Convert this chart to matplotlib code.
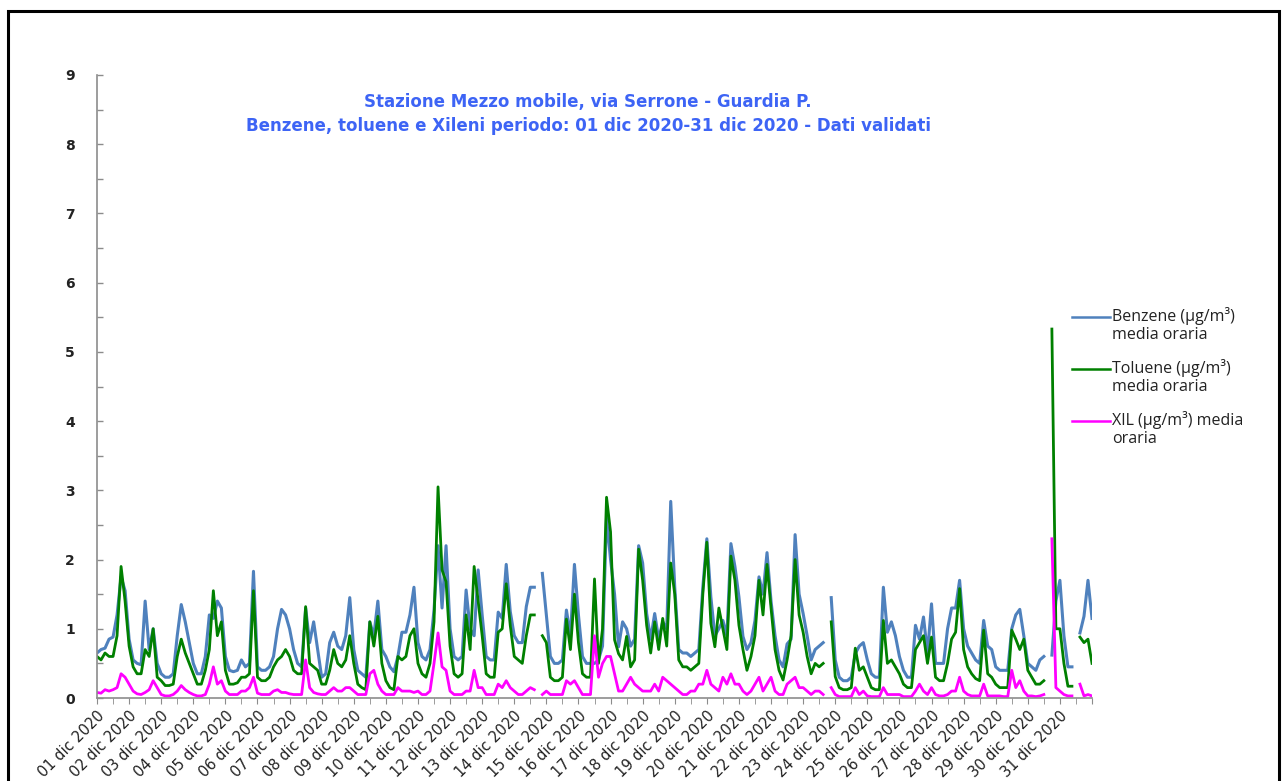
import numpy as np
import matplotlib
matplotlib.use("Agg")
import matplotlib.pyplot as plt
from matplotlib.lines import Line2D
from matplotlib.patches import Rectangle

nan = np.nan

# valori ogni 3 ore (00, 03, ..., 21) per ciascun giorno di dicembre 2020,
# più l'ultimo valore a fine periodo
benzene = [
    .65, .70, .72, .85, .88, 1.20, 1.75, 1.55,   # 01
    .85, .55, .50, .48, 1.40, .70, 1.00, .50,    # 02
    .35, .30, .30, .35, .90, 1.35, 1.10, .80,    # 03
    .50, .35, .35, .60, 1.20, 1.15, 1.40, 1.30,  # 04
    .60, .40, .38, .40, .55, .45, .50, 1.83,     # 05
    .45, .40, .40, .45, .60, 1.00, 1.28, 1.20,   # 06
    1.00, .70, .50, .45, 1.30, .80, 1.10, .70,   # 07
    .30, .35, .80, .95, .75, .70, .90, 1.45,     # 08
    .70, .40, .35, .30, 1.10, .90, 1.40, .70,    # 09
    .60, .45, .38, .60, .95, .95, 1.20, 1.60,    # 10
    .80, .60, .55, .70, 1.27, 2.20, 1.30, 2.20,  # 11
    1.00, .60, .55, .60, 1.56, 1.00, .90, 1.85,  # 12
    1.20, .60, .55, .55, 1.24, 1.15, 1.93, 1.25, # 13
    .90, .80, .80, 1.32, 1.60, 1.60, nan, 1.80,  # 14
    1.20, .60, .50, .50, .55, 1.27, .90, 1.93,   # 15
    1.20, .60, .50, .50, .50, .55, .75, 2.60,    # 16
    2.00, 1.50, .74, 1.10, 1.00, .75, .85, 2.20, # 17
    1.95, 1.22, .85, 1.22, .85, 1.10, 1.00, 2.84,# 18
    1.60, .70, .65, .65, .60, .65, .70, 1.60,    # 19
    2.30, 1.46, .90, 1.00, 1.12, .90, 2.23, 1.90,# 20
    1.46, .89, .70, .80, 1.12, 1.75, 1.50, 2.10, # 21
    1.40, .90, .55, .45, .78, .85, 2.36, 1.50,   # 22
    1.22, .90, .55, .70, .75, .80, nan, 1.45,    # 23
    .55, .30, .25, .25, .30, .64, .75, .80,      # 24
    .55, .35, .30, .30, 1.60, .95, 1.10, .90,    # 25
    .60, .40, .30, .30, 1.05, .85, 1.17, .65,    # 26
    1.36, .50, .50, .50, 1.00, 1.30, 1.30, 1.70, # 27
    1.00, .75, .65, .55, .50, 1.12, .75, .70,    # 28
    .45, .40, .40, .40, 1.00, 1.20, 1.28, .90,   # 29
    .50, .45, .40, .55, .60, nan, .62, 1.40,     # 30
    1.70, .90, .45, .45, nan, .94, 1.18, 1.70,   # 31
    1.15,
]

toluene = [
    .60, .55, .65, .60, .60, .90, 1.90, 1.40,
    .75, .45, .35, .35, .70, .60, 1.00, .30,
    .25, .18, .18, .20, .60, .85, .65, .50,
    .35, .20, .20, .40, .70, 1.55, .90, 1.10,
    .40, .20, .20, .22, .30, .30, .35, 1.55,
    .30, .25, .25, .30, .45, .55, .60, .70,
    .60, .40, .35, .35, 1.32, .50, .45, .40,
    .20, .20, .40, .70, .50, .45, .55, .90,
    .50, .20, .15, .12, 1.10, .75, 1.18, .50,
    .25, .15, .12, .60, .55, .60, .90, 1.00,
    .50, .35, .30, .50, 1.10, 3.05, 1.85, 1.68,
    .75, .35, .30, .35, 1.20, .70, 1.90, 1.40,
    .90, .35, .30, .30, .95, 1.00, 1.65, 1.05,
    .60, .55, .50, .90, 1.20, 1.20, nan, .90,
    .80, .30, .25, .25, .30, 1.14, .70, 1.50,
    .80, .35, .30, .30, 1.72, .50, 1.00, 2.90,
    2.40, .84, .64, .55, .89, .45, .55, 2.15,
    1.70, 1.05, .65, 1.10, .70, 1.15, .75, 1.95,
    1.50, .55, .45, .45, .40, .45, .50, 1.50,
    2.25, 1.08, .74, 1.30, 1.00, .70, 2.05, 1.70,
    1.05, .70, .40, .60, .90, 1.70, 1.20, 1.93,
    1.30, .70, .40, .26, .55, .90, 2.00, 1.20,
    .95, .60, .35, .50, .45, .50, nan, 1.10,
    .31, .15, .12, .12, .15, .72, .40, .45,
    .30, .15, .12, .12, 1.12, .50, .55, .45,
    .35, .20, .15, .15, .70, .80, .90, .50,
    .88, .30, .25, .25, .50, .85, .95, 1.58,
    .70, .45, .35, .28, .25, .98, .35, .30,
    .20, .15, .15, .15, .98, .85, .70, .85,
    .40, .30, .20, .20, .25, nan, 5.33, 1.00,
    1.00, .50, .17, .17, nan, .88, .80, .85,
    .50,
]

xileni = [
    .08, .07, .12, .10, .12, .15, .35, .30,
    .20, .10, .06, .05, .08, .12, .25, .15,
    .05, .03, .03, .05, .10, .18, .12, .08,
    .05, .03, .03, .05, .20, .45, .20, .25,
    .10, .05, .05, .05, .10, .10, .15, .30,
    .07, .05, .05, .05, .10, .12, .08, .08,
    .06, .05, .05, .05, .55, .15, .08, .06,
    .05, .05, .10, .15, .10, .10, .15, .15,
    .10, .05, .05, .05, .35, .40, .20, .10,
    .05, .05, .05, .15, .10, .10, .10, .08,
    .10, .05, .05, .10, .50, .94, .45, .40,
    .10, .05, .05, .05, .10, .10, .40, .15,
    .15, .05, .05, .05, .20, .15, .25, .15,
    .10, .05, .05, .10, .15, .12, nan, .05,
    .10, .05, .05, .05, .05, .25, .20, .25,
    .15, .05, .05, .05, .90, .30, .50, .60,
    .60, .35, .10, .10, .20, .30, .20, .15,
    .10, .10, .10, .20, .10, .30, .25, .20,
    .15, .10, .05, .05, .10, .10, .20, .20,
    .40, .20, .15, .10, .30, .20, .35, .20,
    .20, .10, .05, .10, .20, .30, .10, .20,
    .30, .10, .05, .05, .20, .25, .30, .15,
    .15, .10, .05, .10, .10, .05, nan, .15,
    .05, .02, .02, .02, .02, .15, .05, .10,
    .03, .02, .02, .02, .15, .05, .05, .05,
    .05, .02, .02, .02, .10, .20, .10, .05,
    .15, .05, .03, .03, .05, .10, .10, .30,
    .10, .05, .03, .03, .03, .20, .03, .03,
    .03, .03, .02, .02, .40, .15, .25, .10,
    .03, .03, .02, .03, .05, nan, 2.30, .15,
    .10, .05, .03, .03, nan, .20, .03, .05,
    .03,
]

giorni = ["%02d dic 2020" % g for g in range(1, 32)]
serie = [
    ("Benzene (\u00b5g/m\u00b3)\nmedia oraria", benzene, "#4F81BD", 2.2),
    ("Toluene (\u00b5g/m\u00b3)\nmedia oraria", toluene, "#008000", 2.0),
    ("XIL (\u00b5g/m\u00b3) media\noraria", xileni, "#FF00FF", 2.0),
]

W, H = 1283, 781
fig = plt.figure(figsize=(W / 100, H / 100), dpi=100)
ax = fig.add_axes([97 / W, 1 - 698 / H, (1092 - 97) / W, (698 - 75) / H])

ore = np.arange(len(benzene)) * 3
for nome, valori, colore, lw in serie:
    ax.plot(ore, valori, color=colore, lw=lw, solid_joinstyle="round")

ax.set_xlim(0, 744)
ax.set_ylim(0, 9)
ax.set_yticks(range(10))
ax.set_yticks(np.arange(0.5, 9, 1), minor=True)
ax.set_xticks(np.arange(0, 745, 24))
ax.set_xticklabels(giorni + [""], rotation=45, ha="right", rotation_mode="anchor",
                   fontsize=10.5, color="#222222")
ax.set_xticks(np.arange(12, 745, 24), minor=True)

for s in ["top", "right"]:
    ax.spines[s].set_visible(False)
for s in ["left", "bottom"]:
    ax.spines[s].set_color("#8C8C8C")
    ax.spines[s].set_linewidth(1.2)

ax.tick_params(axis="y", which="both", direction="in", color="#8C8C8C", width=1)
ax.tick_params(axis="y", which="major", length=4, pad=16, labelsize=10,
               labelcolor="#222222")
ax.tick_params(axis="y", which="minor", length=4)
ax.tick_params(axis="x", which="both", direction="out", length=4, color="#8C8C8C")
for t in ax.get_yticklabels():
    t.set_fontweight("bold")

fig.text(588 / W, 1 - 114 / H,
         "Stazione Mezzo mobile, via Serrone - Guardia P.\n"
         "Benzene, toluene e Xileni periodo: 01 dic 2020-31 dic 2020 - Dati validati",
         ha="center", va="center", color="#3D64F5", fontsize=12,
         fontweight="bold", linespacing=1.45)

# legenda a destra
for i, (nome, valori, colore, lw) in enumerate(serie):
    y = 1 - (317 + 52 * i) / H
    fig.add_artist(Line2D([1072 / W, 1110 / W], [y, y], color=colore, lw=1.8))
    fig.text(1112 / W, y + 10 / H, nome, ha="left", va="top", fontsize=11.5,
             family="Open Sans", color="#222222", linespacing=1.15)

# cornice
fig.add_artist(Rectangle((8 / W, -0.05), (1279 - 8) / W, 1.05 - 11 / H,
                         transform=fig.transFigure, fill=False, lw=2.2,
                         edgecolor="black"))

fig.savefig("out.png", dpi=100)
